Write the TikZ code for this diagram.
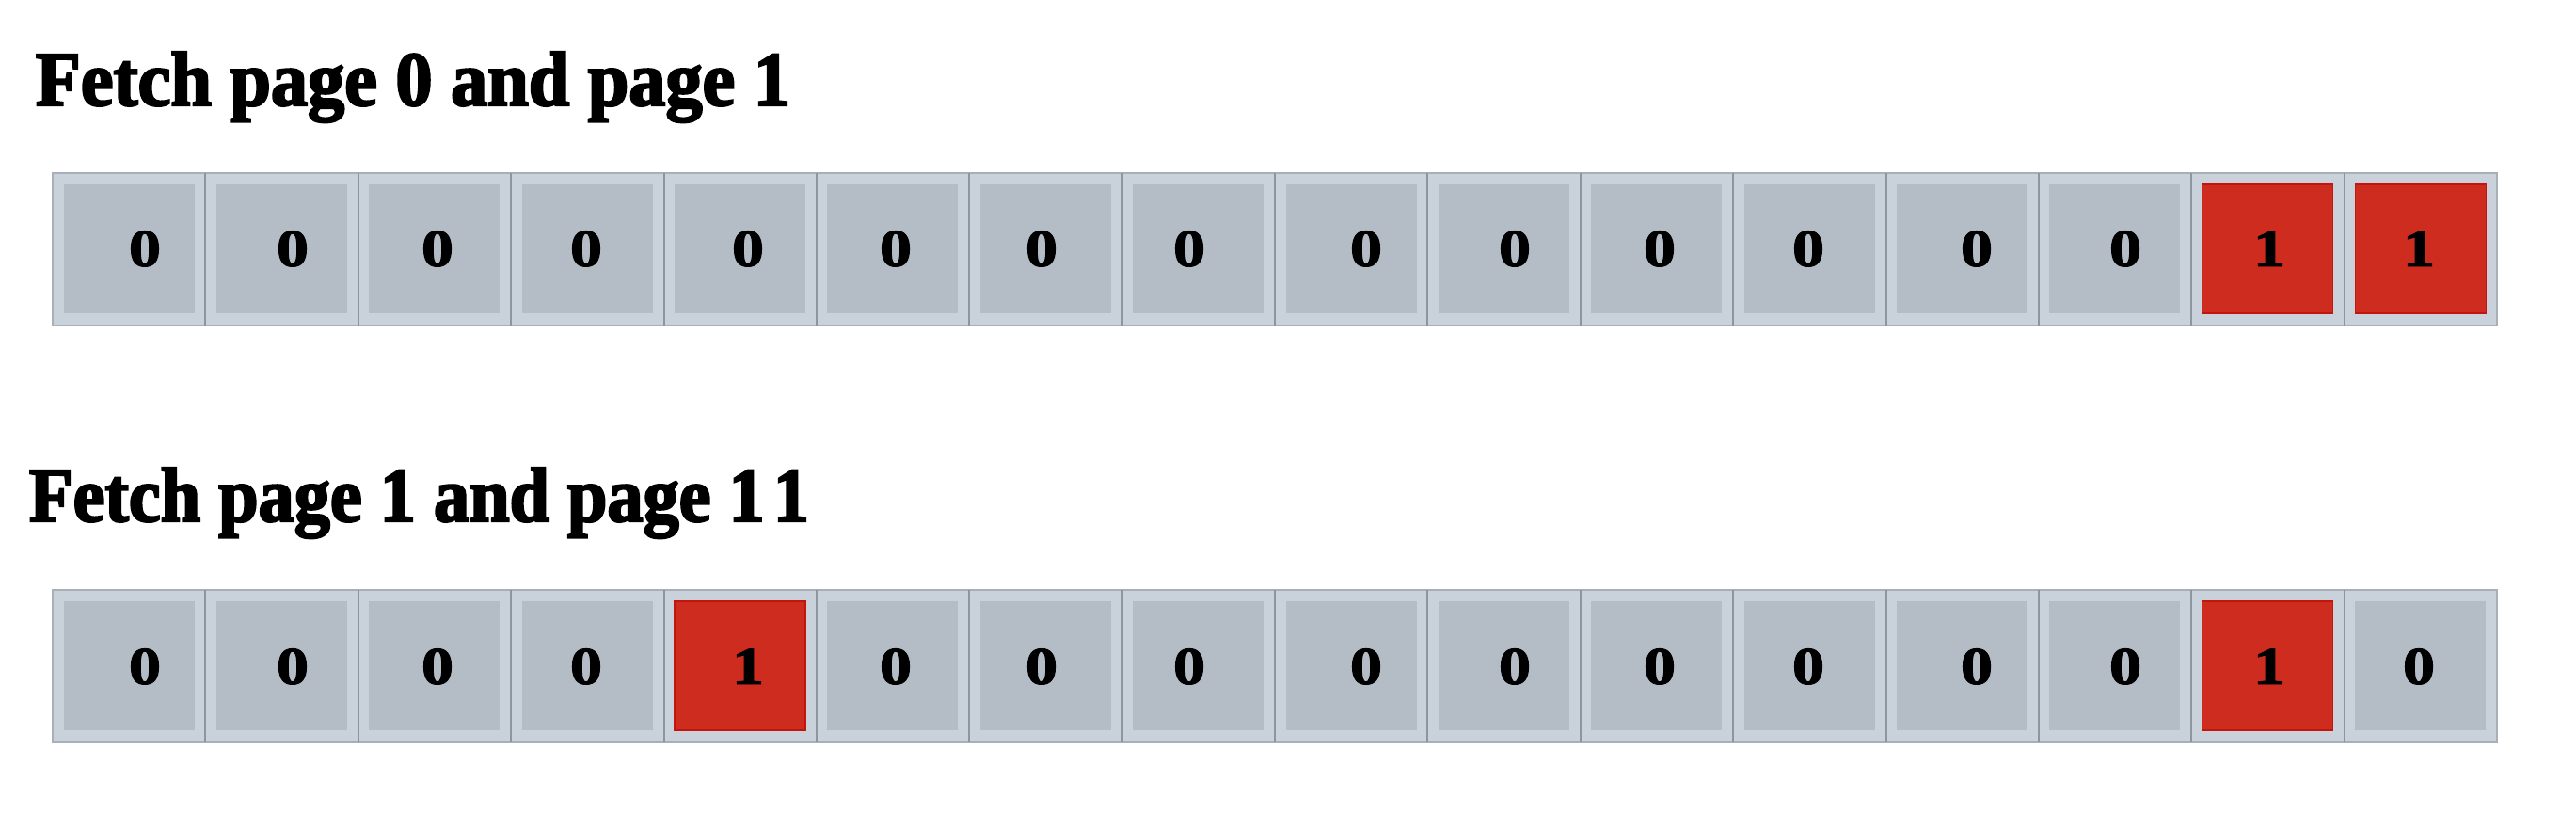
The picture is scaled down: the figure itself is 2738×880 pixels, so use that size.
\documentclass[tikz,border=0pt]{standalone}
\usepackage{fontspec}
\setmainfont{Liberation Serif}
\newfontfamily\heavyfont{Liberation Serif}[BoldFeatures={FakeBold=1.5}]
\newfontfamily\blackfont{Liberation Serif}[BoldFeatures={FakeBold=3}]
\usepackage{graphicx}
\definecolor{cellout}{HTML}{C9D1DA}
\definecolor{cellin}{HTML}{B4BCC6}
\definecolor{rowedge}{HTML}{A7AFB8}
\definecolor{divedge}{HTML}{8D96A0}
\definecolor{hitred}{HTML}{CF2C20}
\definecolor{hitedge}{HTML}{C4140E}
\tikzset{
  cellbox/.style={draw=rowedge, line width=1.5pt, fill=cellout, minimum width=162.375pt,
    minimum height=162pt, inner sep=0pt, outer sep=0pt, anchor=north west},
  innerbox/.style={fill=cellin, minimum width=139pt, minimum height=137pt, inner sep=0pt,
    outer sep=0pt, anchor=north west},
  hitbox/.style={innerbox, fill=hitred, draw=hitedge, line width=1.2pt},
  divider/.style={draw=divedge, line width=2pt},
  digit/.style={anchor=base, inner sep=0pt, outer sep=0pt},
  titletext/.style={anchor=base west, inner sep=0pt, outer sep=0pt}
}
\newcommand\bitrow[4]{%
  \foreach \v [count=\i from 0] in {#4} {
    \pgfmathsetmacro\cx{56+162.375*\i}
    \node[cellbox] (r#1c\i) at (\cx,#2) {};
    \ifnum\v=1 \def\boxsty{hitbox}\else\def\boxsty{innerbox}\fi
    \node[\boxsty] (r#1i\i) at (\cx+11.5,#2+12) {};
    \pgfmathsetmacro\dx{{154,311,465,623,795,952,1107,1264,1452,1610,1764,1922,2101,2259,2412,2571}[\i]}
    \node[digit] (r#1d\i) at (\dx,#3) {\scalebox{1.25}[1.03]{\heavyfont\bfseries\fontsize{55}{55}\selectfont\v}};
  }
  \foreach \i in {1,...,15} {
    \draw[divider] (r#1c\i.north west) -- (r#1c\i.south west);
  }
}
\begin{document}
\begin{tikzpicture}[x=1pt,y=-1pt]
\useasboundingbox (0,0) rectangle (2738,880);
\node[titletext] (t1) at (38,112) {\resizebox{802pt}{57pt}{\blackfont\bfseries\fontsize{80}{80}\selectfont Fetch page 0 and page 1}};
\node[titletext] (t2) at (31,554) {\resizebox{829pt}{57pt}{\blackfont\bfseries\fontsize{80}{80}\selectfont Fetch page 1 and page 1\kern0.12em1}};
\bitrow{1}{184}{283}{0,0,0,0,0,0,0,0,0,0,0,0,0,0,1,1}
\bitrow{2}{627}{727}{0,0,0,0,1,0,0,0,0,0,0,0,0,0,1,0}
\end{tikzpicture}
\end{document}
